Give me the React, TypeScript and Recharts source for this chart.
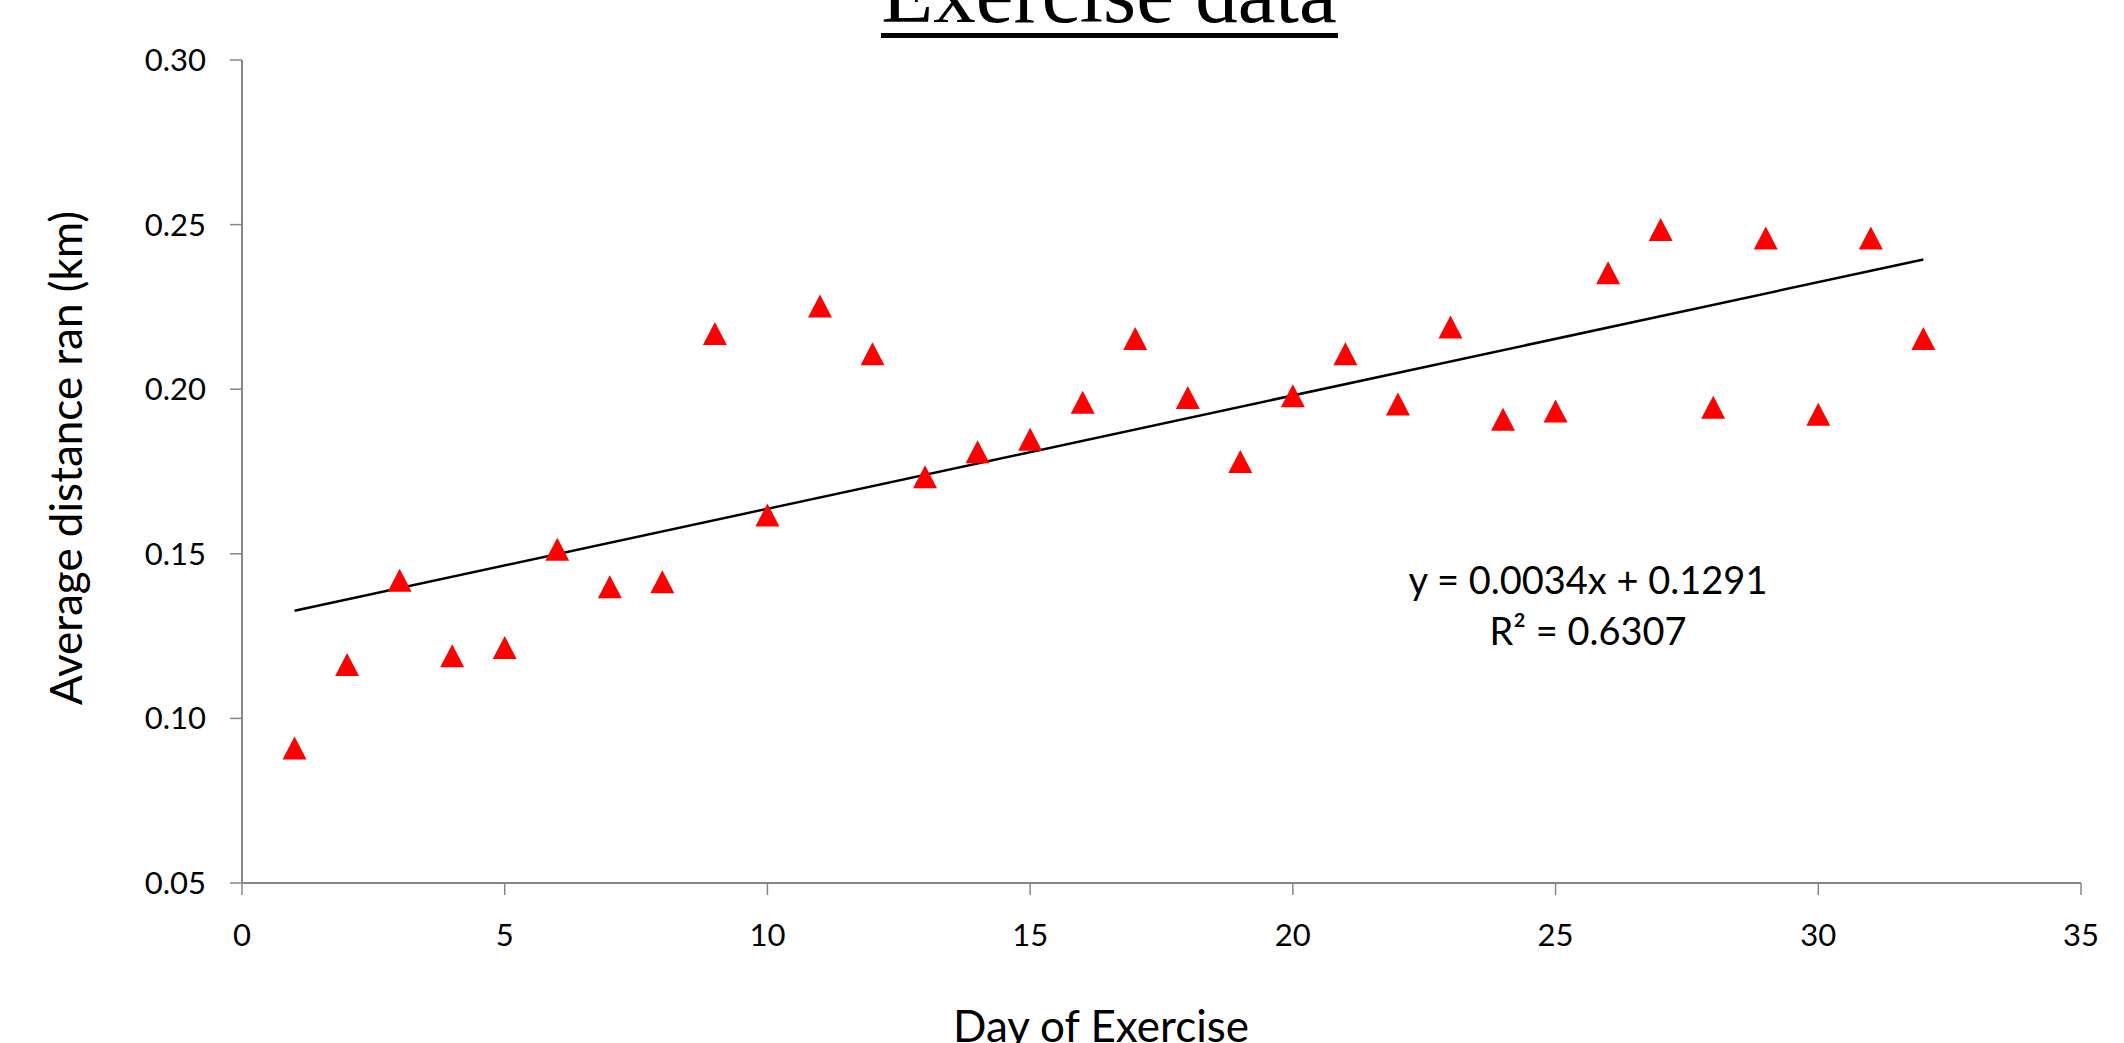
import React from "react";
import {
  ScatterChart,
  Scatter,
  XAxis,
  YAxis,
  ReferenceLine,
} from "recharts";

// Day of exercise (x) and average distance ran in km (y)
const days = [
  1, 2, 3, 4, 5, 6, 7, 8, 9, 10, 11, 12, 13, 14, 15, 16,
  17, 18, 19, 20, 21, 22, 23, 24, 25, 26, 27, 28, 29, 30, 31, 32,
];
const distance = [
  0.091, 0.1164, 0.142, 0.119, 0.1215, 0.1514, 0.14, 0.1415,
  0.2169, 0.1618, 0.2253, 0.2108, 0.1734, 0.181, 0.1848, 0.196,
  0.2154, 0.1975, 0.178, 0.198, 0.2108, 0.1955, 0.2189, 0.1909,
  0.1934, 0.2354, 0.2485, 0.1945, 0.2459, 0.1924, 0.2459, 0.2154,
];

// linear trendline endpoints
const trendX = [1, 32];
const trendY = [0.1327, 0.2394];

const xTicks = [0, 5, 10, 15, 20, 25, 30, 35];
const yTicks = [0.05, 0.1, 0.15, 0.2, 0.25, 0.3];

const equationText = "y = 0.0034x + 0.1291";
const rSquaredText = "R² = 0.6307";

const W = 2124;
const H = 1043;
const FONT = "Lato, 'Open Sans', sans-serif";
const AXIS_GRAY = "#868686";

const points = days.map((d, i) => ({ day: d, dist: distance[i] }));

function Triangle(props: any) {
  const { cx, cy } = props;
  if (cx == null || cy == null) return null;
  const hw = 12;
  const hh = 11.5;
  return (
    <path
      d={`M${cx},${cy - hh} L${cx + hw},${cy + hh} L${cx - hw},${cy + hh} Z`}
      fill="#FF0000"
    />
  );
}

export default function App() {
  const tickStyle = { fontSize: 31, fill: "#000", fontFamily: FONT };

  return (
    <div style={{ position: "relative", width: W, height: H, background: "#fff" }}>
      <style>{"body{margin:0}"}</style>
      <ScatterChart
        width={W}
        height={H}
        margin={{ top: 60, right: 43, bottom: 60, left: 92 }}
      >
        <XAxis
          type="number"
          dataKey="day"
          domain={[0, 35]}
          ticks={xTicks}
          interval={0}
          height={100}
          tick={tickStyle}
          tickSize={12}
          tickMargin={29}
          axisLine={{ stroke: AXIS_GRAY, strokeWidth: 2 }}
          tickLine={{ stroke: AXIS_GRAY, strokeWidth: 1.5 }}
        />
        <YAxis
          type="number"
          dataKey="dist"
          domain={[0.05, 0.3]}
          ticks={yTicks}
          interval={0}
          width={150}
          tick={tickStyle}
          tickSize={12}
          tickMargin={24}
          tickFormatter={(v: number) => v.toFixed(2)}
          axisLine={{ stroke: AXIS_GRAY, strokeWidth: 2 }}
          tickLine={{ stroke: AXIS_GRAY, strokeWidth: 1.5 }}
        />
        <ReferenceLine
          segment={[
            { x: trendX[0], y: trendY[0] },
            { x: trendX[1], y: trendY[1] },
          ]}
          stroke="#000"
          strokeWidth={2.5}
          ifOverflow="visible"
        />
        <Scatter
          data={points}
          shape={<Triangle />}
          isAnimationActive={false}
        />
      </ScatterChart>

      <svg
        width={W}
        height={H}
        style={{ position: "absolute", left: 0, top: 0, pointerEvents: "none" }}
      >
        <text
          x={1109}
          y={22}
          textAnchor="middle"
          fontFamily="'Liberation Serif', 'Times New Roman', serif"
          fontSize={85}
          fill="#000"
        >
          Exercise data
        </text>
        <rect x={881} y={33} width={457} height={5} fill="#000" />
        <text
          x={82}
          y={458}
          transform="rotate(-90 82 458)"
          textAnchor="middle"
          fontFamily={FONT}
          fontSize={44}
          fill="#000"
        >
          Average distance ran (km)
        </text>
        <text
          x={1101}
          y={1042}
          textAnchor="middle"
          fontFamily={FONT}
          fontSize={44}
          fill="#000"
        >
          Day of Exercise
        </text>
        <text
          x={1588}
          y={594}
          textAnchor="middle"
          fontFamily={FONT}
          fontSize={38}
          fill="#000"
        >
          {equationText}
        </text>
        <text
          x={1588}
          y={645}
          textAnchor="middle"
          fontFamily={FONT}
          fontSize={38}
          fill="#000"
        >
          {rSquaredText}
        </text>
      </svg>
    </div>
  );
}
